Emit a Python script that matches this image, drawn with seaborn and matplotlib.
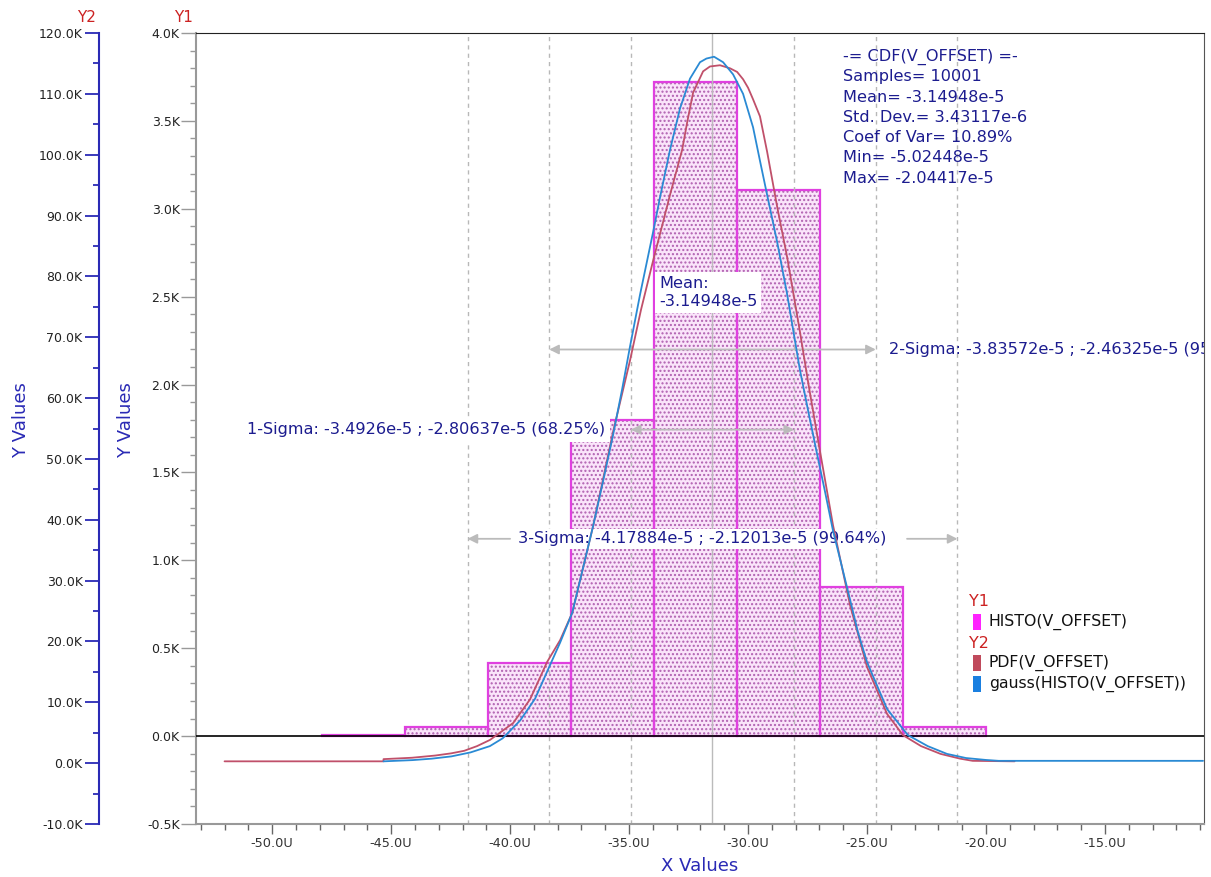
import matplotlib
matplotlib.use("Agg")
import matplotlib.pyplot as plt
import seaborn as sns
import numpy as np
from matplotlib.ticker import MultipleLocator, FuncFormatter
from matplotlib.patches import Rectangle

# ---------------- data (x in micro-units "U") ----------------
bin_edges_u = [-47.90, -44.41, -40.93, -37.44, -33.95, -30.46, -26.98, -23.49, -20.00]
histo_counts = [8, 52, 414, 1800, 3724, 3107, 849, 50]

pdf_x_u = [-52.00, -45.32, -45.32, -44.12, -43.15, -42.48, -41.93, -41.39, -40.84, -39.87,
           -39.16, -38.45, -37.90, -37.39, -36.51, -35.67, -34.96, -34.50, -33.99, -33.60,
           -33.28, -32.77, -32.56, -32.31, -31.89, -31.60, -31.18, -30.76, -30.46, -30.21,
           -30.00, -29.79, -29.50, -29.20, -28.78, -28.36, -27.82, -27.45, -27.06, -26.43,
           -25.71, -25.00, -24.16, -23.49, -22.73, -21.91, -21.09, -20.56, -18.80]
pdf_y_k = [0.3, 0.3, 0.66, 0.89, 1.25, 1.61, 2.03, 2.80, 3.83, 6.6,
           10.5, 16.6, 20.2, 24.7, 39.0, 54.5, 66.2, 74.5, 82.6, 88.5,
           93.4, 100.8, 105.3, 110.2, 113.7, 114.5, 114.7, 114.2, 113.6, 112.4,
           111.0, 109.1, 106.3, 100.5, 91.5, 83.2, 70.9, 62.0, 53.1, 39.1,
           25.9, 15.8, 8.1, 4.6, 2.8, 1.52, 0.74, 0.38, 0.3]

gauss_x_u = [-45.32, -44.10, -43.29, -42.47, -41.66, -40.85, -40.31, -39.58, -38.95, -38.45,
             -37.90, -37.39, -36.51, -36.09, -35.67, -35.29, -34.96, -34.54, -33.99, -33.70,
             -33.28, -32.86, -32.44, -32.02, -31.75, -31.43, -31.05, -30.63, -30.21, -29.79,
             -29.50, -29.20, -28.78, -28.36, -27.82, -27.48, -27.10, -26.76, -26.43, -26.05,
             -25.71, -25.38, -25.00, -24.16, -23.28, -22.45, -21.64, -20.84, -20.02, -19.47,
             -10.88]
gauss_y_k = [0.3, 0.5, 0.74, 1.11, 1.77, 2.80, 4.09, 7.0, 10.6, 15.0,
             19.8, 24.7, 39.0, 46.4, 54.0, 61.5, 68.5, 77.0, 87.3, 93.0,
             100.8, 107.6, 112.5, 115.2, 115.8, 116.1, 115.2, 113.2, 110.0, 104.5,
             99.0, 93.4, 85.7, 77.1, 64.6, 58.0, 50.8, 44.5, 38.2, 32.2,
             26.8, 21.5, 16.6, 8.9, 4.6, 2.80, 1.52, 0.84, 0.53, 0.38,
             0.38]

mean_u = -31.4948
sigma_lo_u = [-34.926, -38.3572, -41.7884]
sigma_hi_u = [-28.0637, -24.6325, -21.2013]

stats_lines = ["-= CDF(V_OFFSET) =-", "Samples= 10001", "Mean= -3.14948e-5",
               "Std. Dev.= 3.43117e-6", "Coef of Var= 10.89%", "Min= -5.02448e-5",
               "Max= -2.04417e-5"]
sigma_labels = ["1-Sigma: -3.4926e-5 ; -2.80637e-5 (68.25%)",
                "2-Sigma: -3.83572e-5 ; -2.46325e-5 (95.43%)",
                "3-Sigma: -4.17884e-5 ; -2.12013e-5 (99.64%)"]
mean_label = "Mean:\n-3.14948e-5"

# ---------------- style ----------------
sns.set_style("white")
plt.rcParams['font.family'] = ['DejaVu Sans']
NAVY = '#1c1c8f'
RED_T = '#cc2222'
BLUE_AX = '#2a2ab5'
PDF_C = '#c0506a'
GAUSS_C = '#2a8ad4'
MAG = '#e040e0'
FS = 11.6

W, H = 1211, 877
L, R, T, B = 196, 1204, 33, 824
fig = plt.figure(figsize=(W / 100, H / 100), dpi=100)
ax = fig.add_axes([L / W, (H - B) / H, (R - L) / W, (B - T) / H])

def axp(x, y):
    return ((x - L) / (R - L), (B - y) / (B - T))

def xu(px):
    return (px - 748) / 23.8 - 30

# ---------------- histogram (Y1) ----------------
centers = [(a + b) / 2 for a, b in zip(bin_edges_u[:-1], bin_edges_u[1:])]
sns.histplot(x=centers, weights=histo_counts, bins=bin_edges_u, ax=ax,
             color='#fae4fa', linewidth=0, alpha=1)
for p in ax.patches:
    p.set_facecolor('#fae4fa')
    p.set_edgecolor('#b060b0')
    p.set_hatch('....')
    p.set_linewidth(0)
    p.set_zorder(1)
n0 = len(ax.patches)
sns.histplot(x=centers, weights=histo_counts, bins=bin_edges_u, ax=ax,
             fill=False, linewidth=1.6)
for p in ax.patches[n0:]:
    p.set_edgecolor(MAG)
    p.set_facecolor('none')
    p.set_linewidth(1.6)
    p.set_zorder(1.5)

ax.set_xlim(-53.2, -10.84)
ax.set_ylim(-500, 4000)
ax.set_xlabel('')
ax.set_ylabel('')

# grid / reference lines
for v in sigma_lo_u + sigma_hi_u:
    ax.axvline(v, color='#b8b8b8', lw=1, ls=(0, (3, 3)), zorder=2)
ax.axvline(mean_u, color='#bbbbbb', lw=1, zorder=2)
ax.axhline(0, color='black', lw=1.2, zorder=3)

# ticks Y1 / X
ax.xaxis.set_major_locator(MultipleLocator(5))
ax.xaxis.set_minor_locator(MultipleLocator(1))
ax.xaxis.set_major_formatter(FuncFormatter(lambda v, p: f"{v:.1f}U"))
ax.yaxis.set_major_locator(MultipleLocator(500))
ax.yaxis.set_minor_locator(MultipleLocator(100))
ax.yaxis.set_major_formatter(FuncFormatter(lambda v, p: f"{v / 1000:.1f}K"))
ax.tick_params(axis='y', which='major', left=True, length=10.8, width=1, color='#999999',
               labelsize=9, labelcolor='#222222', pad=1)
ax.tick_params(axis='y', which='minor', left=True, length=4.3, width=1, color='#999999')
ax.tick_params(axis='x', which='major', bottom=True, length=7.2, width=1, color='#666666',
               labelsize=9.3, labelcolor='#333333', pad=2)
ax.tick_params(axis='x', which='minor', bottom=True, length=4.3, width=1, color='#666666')
ax.spines['left'].set_color('#999999')
ax.spines['left'].set_linewidth(1.5)
ax.spines['bottom'].set_color('#999999')
ax.spines['bottom'].set_linewidth(1.5)
ax.spines['top'].set_color('#222222')
ax.spines['right'].set_color('#555555')

# ---------------- annotations ----------------
arrow_kw = dict(color='#bbbbbb', lw=1.3, shrinkA=0, shrinkB=0, mutation_scale=14)
# 1-sigma
y1s = (735 - 429) / 0.1755
ax.annotate('', xy=(sigma_lo_u[0], y1s), xytext=(sigma_hi_u[0], y1s),
            arrowprops=dict(arrowstyle='<|-|>', **arrow_kw), zorder=3)
ax.text(xu(605), y1s, sigma_labels[0], ha='right', va='center', fontsize=FS, color=NAVY,
        bbox=dict(boxstyle='square,pad=0.3', fc='white', ec='none'), zorder=4)
# 2-sigma
y2s = (735 - 349) / 0.1755
ax.annotate('', xy=(sigma_lo_u[1], y2s), xytext=(sigma_hi_u[1], y2s),
            arrowprops=dict(arrowstyle='<|-|>', **arrow_kw), zorder=3)
ax.text(xu(889), y2s, sigma_labels[1], ha='left', va='center', fontsize=FS, color=NAVY,
        clip_on=True, zorder=4)
# 3-sigma
y3s = (735 - 538) / 0.1755
ax.annotate('', xy=(sigma_lo_u[2], y3s), xytext=(xu(510), y3s),
            arrowprops=dict(arrowstyle='-|>', **arrow_kw), zorder=3)
ax.annotate('', xy=(sigma_hi_u[2], y3s), xytext=(xu(907), y3s),
            arrowprops=dict(arrowstyle='-|>', **arrow_kw), zorder=3)
ax.text(xu(702), y3s, sigma_labels[2], ha='center', va='center', fontsize=FS, color=NAVY,
        bbox=dict(boxstyle='square,pad=0.15', fc='white', ec='none'), zorder=4)
# mean label
ax.text(xu(659), (735 - 292) / 0.1755, mean_label, ha='left', va='center', fontsize=FS,
        color=NAVY, linespacing=1.2,
        bbox=dict(boxstyle='square,pad=0.25', fc='white', ec='none'), zorder=4)

# stats block
for i, s in enumerate(stats_lines):
    ax.text(*axp(843, 56.5 + 20.25 * i), s, transform=ax.transAxes, ha='left', va='center',
            fontsize=FS, color=NAVY, zorder=4)

# legend
ax.text(*axp(969, 602), "Y1", transform=ax.transAxes, ha='left', va='center',
        fontsize=11.5, color=RED_T, zorder=5)
ax.text(*axp(969, 643), "Y2", transform=ax.transAxes, ha='left', va='center',
        fontsize=11.5, color=RED_T, zorder=5)
for yc, col, lab in [(622, '#ff22ff', "HISTO(V_OFFSET)"), (663, '#c04a5c', "PDF(V_OFFSET)"),
                     (684, '#1a7fe0', "gauss(HISTO(V_OFFSET))")]:
    x0, y0 = axp(973, yc + 8)
    x1, y1 = axp(981, yc - 8)
    ax.add_patch(Rectangle((x0, y0), x1 - x0, y1 - y0, transform=ax.transAxes,
                           fc=col, ec='none', zorder=5))
    ax.text(*axp(989, yc), lab, transform=ax.transAxes, ha='left', va='center',
            fontsize=11.3, color='#111111', zorder=5)

# ---------------- curves (Y2) ----------------
ax2 = ax.twinx()
sns.lineplot(x=pdf_x_u, y=pdf_y_k, ax=ax2, color=PDF_C, lw=1.3, estimator=None, sort=False)
sns.lineplot(x=gauss_x_u, y=gauss_y_k, ax=ax2, color=GAUSS_C, lw=1.3, estimator=None, sort=False)
ax2.set_ylim(-10, 120)
ax2.set_xlim(-53.2, -10.84)
ax2.set_ylabel('')
ax2.set_xlabel('')
ax2.yaxis.tick_left()
ax2.spines['left'].set_position(('outward', 97 * 0.72))
ax2.spines['left'].set_color(BLUE_AX)
ax2.spines['left'].set_linewidth(1.5)
for s in ['right', 'top', 'bottom']:
    ax2.spines[s].set_visible(False)
ax2.yaxis.set_major_locator(MultipleLocator(10))
ax2.yaxis.set_minor_locator(MultipleLocator(5))
ax2.yaxis.set_major_formatter(FuncFormatter(lambda v, p: f"{v:.1f}K"))
ax2.tick_params(axis='y', which='major', left=True, right=False, length=9.8, width=1.3,
                color=BLUE_AX, labelsize=9, labelcolor='#222222', pad=2)
ax2.tick_params(axis='y', which='minor', left=True, right=False, length=4.3, width=1.3,
                color=BLUE_AX)

# ---------------- axis titles ----------------
fig.text(21 / W, 1 - 420 / H, "Y Values", rotation=90, ha='center', va='center',
         fontsize=13, color=BLUE_AX)
fig.text(126 / W, 1 - 420 / H, "Y Values", rotation=90, ha='center', va='center',
         fontsize=13, color=BLUE_AX)
fig.text(700 / W, 1 - 866 / H, "X Values", ha='center', va='center', fontsize=13,
         color=BLUE_AX)
fig.text(87 / W, 1 - 17 / H, "Y2", ha='center', va='center', fontsize=11, color=RED_T)
fig.text(184 / W, 1 - 17 / H, "Y1", ha='center', va='center', fontsize=11, color=RED_T)

fig.savefig("out.png", dpi=100)
